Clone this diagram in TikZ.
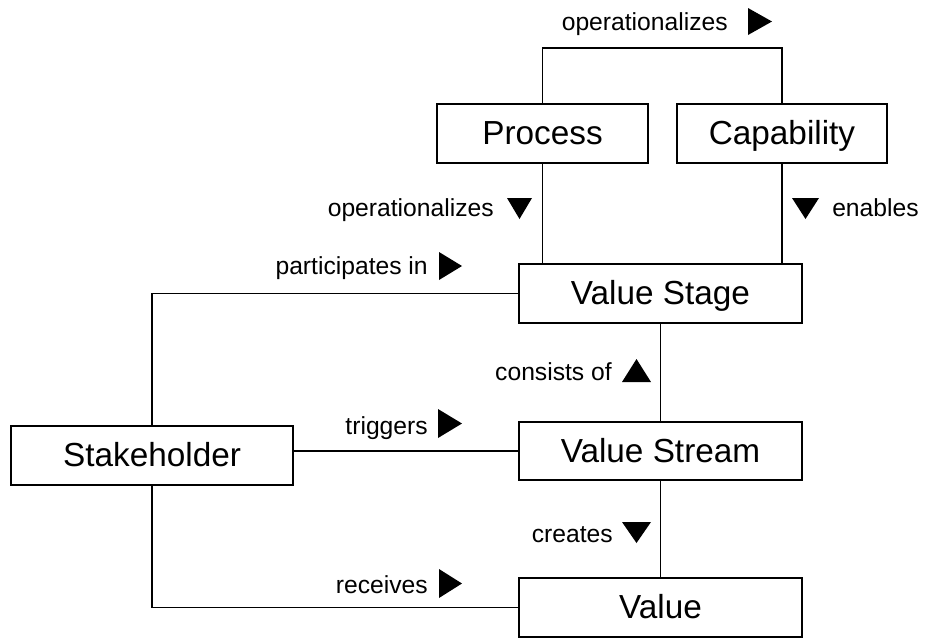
\documentclass[tikz,border=0pt]{standalone}
\usepackage{fontspec}
\setmainfont{Liberation Sans}
\tikzset{
  entity/.style={draw, line width=1.4pt, minimum height=44pt, inner sep=0pt,
    text height=21.25pt, text depth=4.75pt, font=\fontsize{25}{30}\selectfont},
  rel/.style={inner sep=0pt, anchor=base east, font=\fontsize{18.5}{22}\selectfont},
  link/.style={line width=1.4pt},
}
\begin{document}
\begin{tikzpicture}[x=0.75pt, y=-0.75pt]
    \useasboundingbox (0,0) rectangle (925,637);

    % Entities
    \node[entity, minimum width=158pt] (proc) at (542.5,133.5) {Process};
    \node[entity, minimum width=157.5pt] (cap) at (782,133.5) {Capability};
    \node[entity, minimum width=212pt] (stage) at (660.5,293.5) {Value Stage};
    \node[entity, minimum width=212pt] (stream) at (660.5,451) {Value Stream};
    \node[entity, minimum width=212pt] (value) at (660.5,607.5) {Value};
    \node[entity, minimum width=211.5pt] (holder) at (152,455.5) {Stakeholder};

    % Connectors
    \coordinate (bend) at (660,48);
    \draw[link] (proc.north) |- (bend) -| (cap.north);
    \draw[link] (proc.south) -- (proc.south |- stage.north);
    \draw[link] (cap.south) -- (cap.south |- stage.north);
    \draw[link] (stage.south) -- (stream.north);
    \draw[link] (stream.south) -- (value.north);
    \draw[link] (stage.west) -| (holder.north);
    \draw[link] (stream.west) -- (stream.west -| holder.east);
    \draw[link] (value.west) -| (holder.south);

    % Relation labels
    \node[rel] (opcap) at (728,30) {operationalizes};
    \node[rel] (opstage) at (494,216) {operationalizes};
    \node[rel, anchor=base west] (enab) at (832,216) {enables};
    \node[rel] (part) at (428,274) {participates in};
    \node[rel] (trig) at (428,434) {triggers};
    \node[rel] (recv) at (428,593) {receives};
    \node[rel] (cons) at (612,380) {consists of};
    \node[rel] (crea) at (613,542) {creates};

    % Direction marks
    \fill (748,8) -- (772,21.5) -- (748,35) -- cycle;
    \fill (507,198) -- (532,198) -- (519.5,219) -- cycle;
    \fill (792,198) -- (819,198) -- (805.5,219) -- cycle;
    \fill (439,252) -- (462,266) -- (439,280) -- cycle;
    \fill (438,409) -- (462,423.5) -- (438,438) -- cycle;
    \fill (439,569) -- (462,583.5) -- (439,598) -- cycle;
    \fill (622,382) -- (651,382) -- (636.5,359) -- cycle;
    \fill (622,522) -- (651,522) -- (636.5,543) -- cycle;
\end{tikzpicture}
\end{document}
